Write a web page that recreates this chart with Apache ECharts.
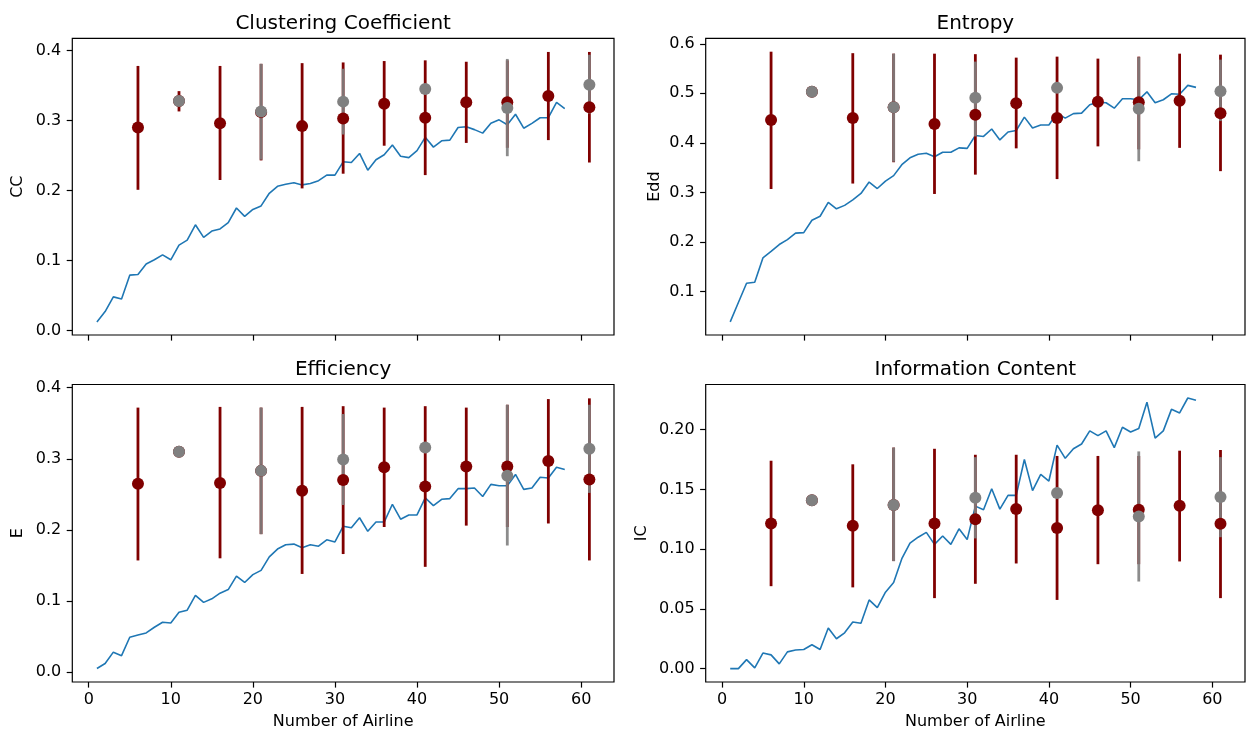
<!DOCTYPE html>
<html>
<head>
<meta charset="utf-8">
<script src="https://cdn.jsdelivr.net/npm/echarts@6/dist/echarts.min.js"></script>
<style>
  html, body { margin: 0; padding: 0; background: #fff; }
  #chart { width: 1246px; height: 733px; }
</style>
</head>
<body>
<div id="chart"></div>
<script>
// x positions of the error bar groups
const redX = [6, 11, 16, 21, 26, 31, 36, 41, 46, 51, 56, 61];
const grayX = [11, 21, 31, 41, 51, 61];
const xTicks = [0, 10, 20, 30, 40, 50, 60];

// Clustering Coefficient
const ccLine = [0.012, 0.027, 0.048, 0.045, 0.079, 0.080, 0.095, 0.101, 0.108, 0.101,
  0.122, 0.129, 0.151, 0.133, 0.142, 0.145, 0.154, 0.175, 0.163, 0.173,
  0.178, 0.196, 0.206, 0.209, 0.211, 0.208, 0.210, 0.214, 0.222, 0.222,
  0.241, 0.240, 0.253, 0.229, 0.244, 0.251, 0.265, 0.249, 0.247, 0.257,
  0.276, 0.262, 0.271, 0.272, 0.290, 0.291, 0.287, 0.282, 0.296, 0.301,
  0.294, 0.309, 0.289, 0.296, 0.304, 0.304, 0.326, 0.317];
const ccRedMean = [0.290, 0.328, 0.296, 0.312, 0.292, 0.303, 0.324, 0.304, 0.326, 0.326, 0.335, 0.319];
const ccRedLow = [0.201, 0.313, 0.215, 0.243, 0.203, 0.224, 0.264, 0.222, 0.268, 0.261, 0.272, 0.240];
const ccRedHigh = [0.378, 0.342, 0.378, 0.381, 0.382, 0.383, 0.385, 0.386, 0.384, 0.386, 0.398, 0.398];
const ccGrayMean = [0.328, 0.313, 0.327, 0.345, 0.318, 0.351];
const ccGrayLow = [0.326, 0.244, 0.280, 0.343, 0.249, 0.310];
const ccGrayHigh = [0.330, 0.381, 0.374, 0.347, 0.388, 0.394];
const ccTicks = [0, 0.1, 0.2, 0.3, 0.4];

// Entropy
const eddLine = [0.039, 0.078, 0.117, 0.119, 0.168, 0.181, 0.195, 0.205, 0.218, 0.219,
  0.244, 0.252, 0.280, 0.267, 0.274, 0.285, 0.298, 0.321, 0.308, 0.323,
  0.334, 0.356, 0.370, 0.377, 0.379, 0.372, 0.381, 0.381, 0.390, 0.389,
  0.415, 0.413, 0.428, 0.406, 0.422, 0.425, 0.452, 0.430, 0.436, 0.436,
  0.460, 0.450, 0.459, 0.460, 0.477, 0.482, 0.481, 0.470, 0.489, 0.489,
  0.487, 0.503, 0.481, 0.487, 0.499, 0.498, 0.516, 0.512];
const eddRedMean = [0.446, 0.503, 0.450, 0.472, 0.438, 0.457, 0.480, 0.450, 0.483, 0.482, 0.485, 0.460];
const eddRedLow = [0.307, 0.500, 0.318, 0.361, 0.297, 0.336, 0.389, 0.327, 0.393, 0.387, 0.390, 0.343];
const eddRedHigh = [0.584, 0.506, 0.581, 0.580, 0.580, 0.579, 0.572, 0.574, 0.570, 0.574, 0.580, 0.578];
const eddGrayMean = [0.503, 0.472, 0.491, 0.511, 0.469, 0.504];
const eddGrayLow = [0.501, 0.362, 0.413, 0.509, 0.363, 0.444];
const eddGrayHigh = [0.505, 0.580, 0.564, 0.513, 0.573, 0.568];
const eddTicks = [0.1, 0.2, 0.3, 0.4, 0.5, 0.6];

// Efficiency
const effLine = [0.005, 0.012, 0.028, 0.023, 0.049, 0.052, 0.055, 0.063, 0.070, 0.069,
  0.084, 0.087, 0.108, 0.098, 0.103, 0.111, 0.116, 0.135, 0.126, 0.137,
  0.143, 0.162, 0.173, 0.179, 0.180, 0.175, 0.179, 0.177, 0.186, 0.183,
  0.205, 0.203, 0.217, 0.198, 0.211, 0.211, 0.236, 0.215, 0.221, 0.221,
  0.245, 0.234, 0.243, 0.244, 0.258, 0.258, 0.259, 0.247, 0.264, 0.262,
  0.262, 0.278, 0.257, 0.259, 0.274, 0.273, 0.288, 0.285];
const effRedMean = [0.265, 0.310, 0.266, 0.283, 0.255, 0.270, 0.288, 0.261, 0.289, 0.289, 0.297, 0.271];
const effRedLow = [0.157, 0.308, 0.160, 0.194, 0.138, 0.166, 0.204, 0.148, 0.206, 0.204, 0.209, 0.157];
const effRedHigh = [0.372, 0.312, 0.373, 0.372, 0.373, 0.374, 0.372, 0.374, 0.372, 0.376, 0.384, 0.385];
const effGrayMean = [0.310, 0.283, 0.299, 0.316, 0.276, 0.314];
const effGrayLow = [0.308, 0.194, 0.235, 0.314, 0.178, 0.252];
const effGrayHigh = [0.312, 0.372, 0.363, 0.318, 0.376, 0.376];
const effTicks = [0, 0.1, 0.2, 0.3, 0.4];

// Information Content
const icLine = [0.000, 0.000, 0.0075, 0.0006, 0.013, 0.0115, 0.004, 0.014, 0.0156, 0.016,
  0.020, 0.016, 0.034, 0.025, 0.030, 0.039, 0.038, 0.0575, 0.051, 0.064,
  0.072, 0.092, 0.105, 0.110, 0.114, 0.104, 0.111, 0.104, 0.117, 0.108,
  0.136, 0.133, 0.1506, 0.1335, 0.145, 0.145, 0.175, 0.149, 0.1626, 0.157,
  0.187, 0.176, 0.184, 0.188, 0.199, 0.195, 0.199, 0.185, 0.202, 0.198,
  0.201, 0.223, 0.193, 0.199, 0.217, 0.214, 0.2265, 0.2246];
const icRedMean = [0.1215, 0.141, 0.1196, 0.137, 0.1215, 0.125, 0.1335, 0.1176, 0.1326, 0.133, 0.1363, 0.1212];
const icRedLow = [0.069, 0.140, 0.068, 0.090, 0.059, 0.071, 0.088, 0.0575, 0.0874, 0.0874, 0.0897, 0.059];
const icRedHigh = [0.174, 0.142, 0.171, 0.185, 0.184, 0.179, 0.179, 0.178, 0.178, 0.178, 0.1824, 0.183];
const icGrayMean = [0.141, 0.137, 0.143, 0.147, 0.1274, 0.1436];
const icGrayLow = [0.140, 0.090, 0.109, 0.146, 0.0729, 0.110];
const icGrayHigh = [0.142, 0.185, 0.177, 0.148, 0.1818, 0.177];
const icTicks = [0, 0.05, 0.1, 0.15, 0.2];

const FONT = "DejaVu Sans";
const RED = "#800000";
const GRAY = "#808080";

const panels = [
  { title: "Clustering Coefficient", yName: "CC", line: ccLine,
    red: [ccRedMean, ccRedLow, ccRedHigh], gray: [ccGrayMean, ccGrayLow, ccGrayHigh],
    ymin: -0.0065, ymax: 0.4175, ticks: ccTicks, digits: 1, nameGap: 46,
    box: { left: 72.3, top: 38.3, width: 541.7, height: 296.7 }, bottomRow: false },
  { title: "Entropy", yName: "Edd", line: eddLine,
    red: [eddRedMean, eddRedLow, eddRedHigh], gray: [eddGrayMean, eddGrayLow, eddGrayHigh],
    ymin: 0.0125, ymax: 0.611, ticks: eddTicks, digits: 1, nameGap: 43,
    box: { left: 705.7, top: 38.3, width: 539.3, height: 296.7 }, bottomRow: false },
  { title: "Efficiency", yName: "E", line: effLine,
    red: [effRedMean, effRedLow, effRedHigh], gray: [effGrayMean, effGrayLow, effGrayHigh],
    ymin: -0.014, ymax: 0.4045, ticks: effTicks, digits: 1, nameGap: 46,
    box: { left: 72.3, top: 384.5, width: 541.7, height: 297.5 }, bottomRow: true },
  { title: "Information Content", yName: "IC", line: icLine,
    red: [icRedMean, icRedLow, icRedHigh], gray: [icGrayMean, icGrayLow, icGrayHigh],
    ymin: -0.0112, ymax: 0.2378, ticks: icTicks, digits: 2, nameGap: 56,
    box: { left: 705.7, top: 384.5, width: 539.3, height: 297.5 }, bottomRow: true }
];

function errorBar(width, opacity) {
  return function (params, api) {
    const x = api.value(0);
    const p1 = api.coord([x, api.value(1)]);
    const p2 = api.coord([x, api.value(2)]);
    return {
      type: "line",
      shape: { x1: p1[0], y1: p1[1], x2: p2[0], y2: p2[1] },
      style: { stroke: api.visual("color"), lineWidth: width, opacity: opacity }
    };
  };
}

const grid = [], xAxis = [], yAxis = [], series = [], graphic = [];

panels.forEach((p, i) => {
  grid.push(Object.assign({ show: true, borderColor: "#000", borderWidth: 1.2, containLabel: false }, p.box));

  xAxis.push({
    type: "value", gridIndex: i, min: -2, max: 64,
    axisLine: { show: false, onZero: false },
    axisTick: { show: true, length: 5.6, customValues: xTicks, lineStyle: { color: "#000", width: 1.2 } },
    axisLabel: { show: p.bottomRow, customValues: xTicks, margin: 10, color: "#000", fontSize: 16, fontFamily: FONT },
    splitLine: { show: false },
    name: p.bottomRow ? "Number of Airline" : "",
    nameLocation: "middle", nameGap: 32,
    nameTextStyle: { color: "#000", fontSize: 16, fontFamily: FONT }
  });

  yAxis.push({
    type: "value", gridIndex: i, min: p.ymin, max: p.ymax,
    axisLine: { show: false, onZero: false },
    axisTick: { show: true, length: 5.6, customValues: p.ticks, lineStyle: { color: "#000", width: 1.2 } },
    axisLabel: {
      customValues: p.ticks, margin: 11, color: "#000", fontSize: 16, fontFamily: FONT,
      formatter: (v) => Number(v).toFixed(p.digits)
    },
    splitLine: { show: false },
    name: p.yName, nameLocation: "middle", nameGap: p.nameGap, nameRotate: 90,
    nameTextStyle: { color: "#000", fontSize: 16, fontFamily: FONT }
  });

  graphic.push({
    type: "text",
    x: p.box.left + p.box.width / 2,
    y: p.box.top - 25,
    style: { text: p.title, fill: "#000", font: "20px " + FONT, align: "center", verticalAlign: "top" }
  });

  series.push({
    type: "line", xAxisIndex: i, yAxisIndex: i, z: 1,
    data: p.line.map((v, k) => [k + 1, v]),
    showSymbol: false, symbol: "none",
    lineStyle: { color: "#1f77b4", width: 1.6 },
    itemStyle: { color: "#1f77b4" }
  });

  series.push({
    type: "custom", xAxisIndex: i, yAxisIndex: i, z: 2,
    renderItem: errorBar(2.8, 1),
    itemStyle: { color: RED },
    encode: { x: 0, y: [1, 2] },
    data: redX.map((x, k) => [x, p.red[1][k], p.red[2][k]])
  });

  series.push({
    type: "custom", xAxisIndex: i, yAxisIndex: i, z: 3,
    renderItem: errorBar(2.8, 0.9),
    itemStyle: { color: GRAY },
    encode: { x: 0, y: [1, 2] },
    data: grayX.map((x, k) => [x, p.gray[1][k], p.gray[2][k]])
  });

  series.push({
    type: "scatter", xAxisIndex: i, yAxisIndex: i, z: 4,
    symbolSize: 12, itemStyle: { color: RED, opacity: 1 },
    data: redX.map((x, k) => [x, p.red[0][k]])
  });

  series.push({
    type: "scatter", xAxisIndex: i, yAxisIndex: i, z: 5,
    symbolSize: 12, itemStyle: { color: GRAY, opacity: 1 },
    data: grayX.map((x, k) => [x, p.gray[0][k]])
  });
});

const chart = echarts.init(document.getElementById("chart"));
chart.setOption({
  animation: false,
  backgroundColor: "#fff",
  textStyle: { fontFamily: FONT },
  grid: grid,
  xAxis: xAxis,
  yAxis: yAxis,
  series: series,
  graphic: graphic
});
</script>
</body>
</html>
